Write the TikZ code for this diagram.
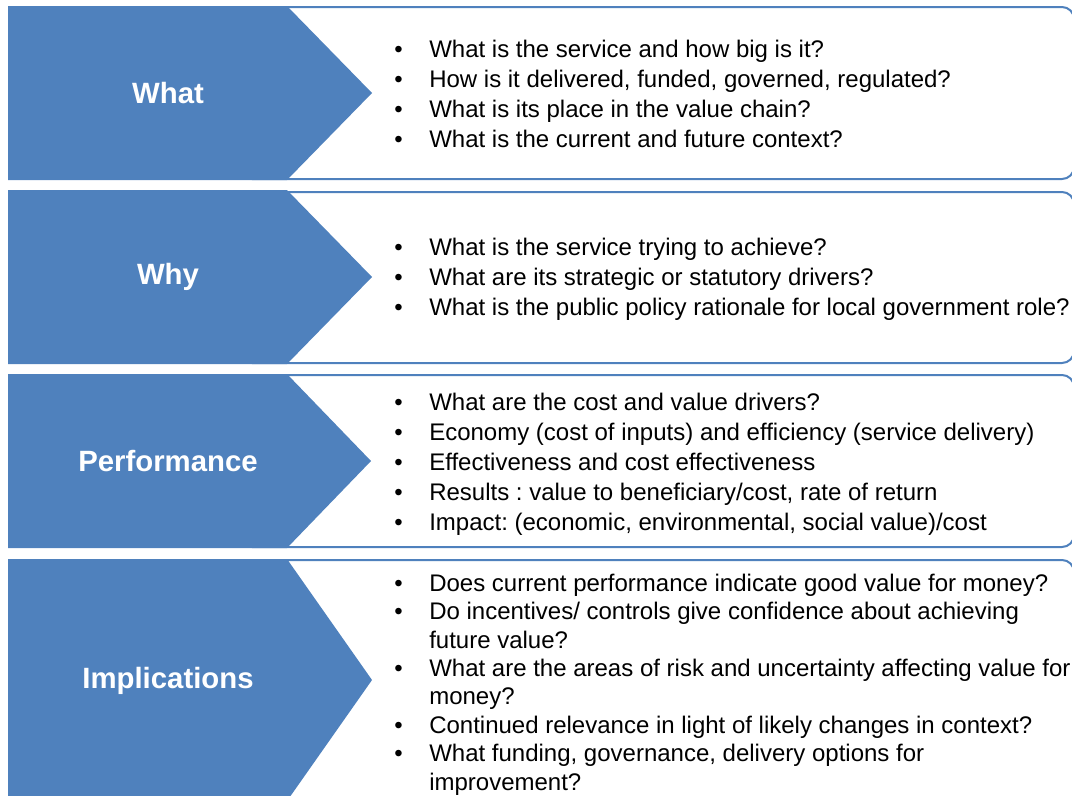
\documentclass[tikz,border=0pt]{standalone}
\usepackage{fontspec}
\setmainfont{Liberation Sans}
\usepackage{array}
\definecolor{accent}{HTML}{4F81BD}
\frenchspacing
\begin{document}
\begin{tikzpicture}[x=0.75pt,y=-0.75pt,
  boxframe/.style={draw=accent, line width=1.5pt, fill=white, rounded corners=9pt},
  chev/.style={fill=accent},
  lbl/.style={text=white, inner sep=0pt, font=\fontsize{22}{26}\selectfont\bfseries},
  body/.style={anchor=west, inner sep=0pt, font=\fontsize{18}{22.5}\selectfont\frenchspacing, align=left},
  bodytight/.style={body, font=\fontsize{18}{21.3}\selectfont\frenchspacing}]
\useasboundingbox (0,0) rectangle (1072,796);
\clip (0,0) rectangle (1072,796);
% boxes
\draw[boxframe] (240,7) rectangle (1074,179);
\draw[boxframe] (240,192) rectangle (1074,363);
\draw[boxframe] (240,375) rectangle (1074,547);
\draw[boxframe] (240,560) rectangle (1074,820);
% chevrons
\fill[chev] (8,6) -- (287,6) -- (372,93) -- (287,180) -- (8,180) -- cycle;
\fill[chev] (8,190) -- (287,190) -- (372,277) -- (287,364) -- (8,364) -- cycle;
\fill[chev] (8,374) -- (287,374) -- (371,461) -- (287,548) -- (8,548) -- cycle;
\fill[chev] (8,559) -- (287,559) -- (372,680) -- (287,801) -- (8,801) -- cycle;
% labels
\node[lbl] (lwhat) at (168,93) {What};
\node[lbl] (lwhy) at (168,277) {Why};
\node[lbl] (lperf) at (168,461) {Performance};
\node[lbl] (limpl) at (168,681) {Implications};
% bodies
\node[body] (bwhat) at (394,96) {\begin{tabular}{@{}p{26.25pt}@{}l@{}}
\textbullet & What is the service and how big is it?\\
\textbullet & How is it delivered, funded, governed, regulated?\\
\textbullet & What is its place in the value chain?\\
\textbullet & What is the current and future context?
\end{tabular}};
\node[body] (bwhy) at (394,279) {\begin{tabular}{@{}p{26.25pt}@{}l@{}}
\textbullet & What is the service trying to achieve?\\
\textbullet & What are its strategic or statutory drivers?\\
\textbullet & What is the public policy rationale for local government role?
\end{tabular}};
\node[body] (bperf) at (394,464) {\begin{tabular}{@{}p{26.25pt}@{}l@{}}
\textbullet & What are the cost and value drivers?\\
\textbullet & Economy (cost of inputs) and efficiency (service delivery)\\
\textbullet & Effectiveness and cost effectiveness\\
\textbullet & Results : value to beneficiary/cost, rate of return\\
\textbullet & Impact: (economic, environmental, social value)/cost
\end{tabular}};
\node[bodytight] (bimpl) at (394,685) {\begin{tabular}{@{}p{26.25pt}@{}l@{}}
\textbullet & Does current performance indicate good value for money?\\
\textbullet & Do incentives/ controls give confidence about achieving\\
 & future value?\\
\textbullet & What are the areas of risk and uncertainty affecting value for\\
 & money?\\
\textbullet & Continued relevance in light of likely changes in context?\\
\textbullet & What funding, governance, delivery options for\\
 & improvement?
\end{tabular}};
\end{tikzpicture}
\end{document}
